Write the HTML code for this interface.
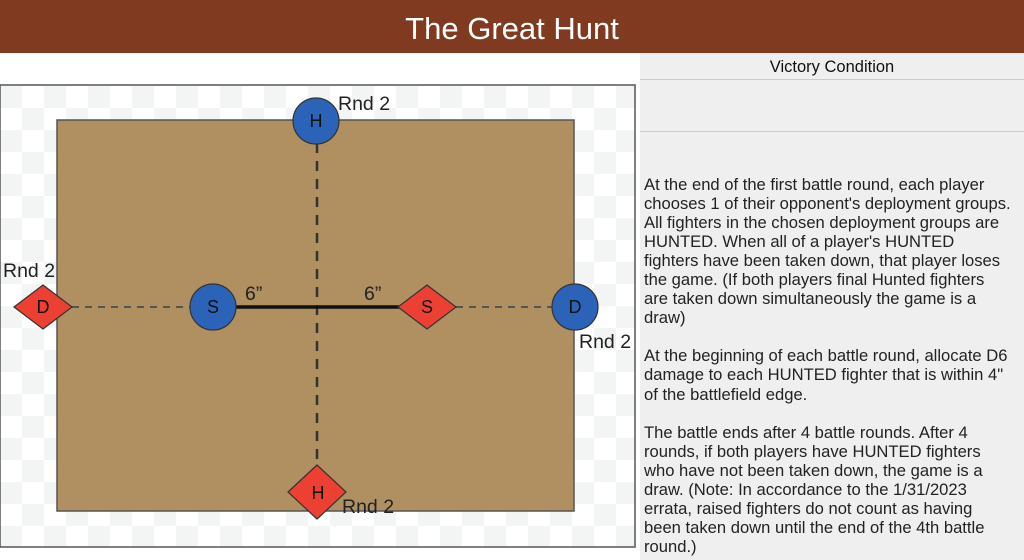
<!DOCTYPE html>
<html><head><style>
body{margin:0;width:1024px;height:560px;overflow:hidden;background:#fff;font-family:"Liberation Sans",Arial,sans-serif;position:relative}
#hdr{position:absolute;left:0;top:0;width:1024px;height:53px;background:#7f3a1f;color:#fff;font-size:31px;text-align:center;line-height:58px}
#rp{position:absolute;left:640px;top:53px;width:384px;height:507px;background:#efefef}
.vc{position:absolute;left:640px;top:53px;width:384px;height:26px;text-align:center;font-size:16.5px;line-height:28px;color:#111;border-bottom:1px solid #ccc}
.ln2{position:absolute;left:640px;top:131px;width:384px;border-top:1px solid #ccc}
#txt{position:absolute;left:644px;top:175px;font-size:16.6px;line-height:19.05px;color:#222;white-space:nowrap}
</style></head><body>
<div id="hdr">The Great Hunt</div>
<div id="rp"></div>
<div class="vc">Victory Condition</div>
<div class="ln2"></div>
<div id="txt">At the end of the first battle round, each player<br>chooses 1 of their opponent's deployment groups.<br>All fighters in the chosen deployment groups are<br>HUNTED. When all of a player's HUNTED<br>fighters have been taken down, that player loses<br>the game. (If both players final Hunted fighters<br>are taken down simultaneously the game is a<br>draw)<br><br>At the beginning of each battle round, allocate D6<br>damage to each HUNTED fighter that is within 4"<br>of the battlefield edge.<br><br>The battle ends after 4 battle rounds. After 4<br>rounds, if both players have HUNTED fighters<br>who have not been taken down, the game is a<br>draw. (Note: In accordance to the 1/31/2023<br>errata, raised fighters do not count as having<br>been taken down until the end of the 4th battle<br>round.)</div>
<svg style="position:absolute;left:0;top:0" width="640" height="560">
<defs><pattern id="ck" x="0" y="86" width="44" height="44" patternUnits="userSpaceOnUse"><rect width="44" height="44" fill="#fff"/><rect width="22" height="22" fill="#f3f4f4"/><rect x="22" y="22" width="22" height="22" fill="#f3f4f4"/></pattern></defs>
<rect x="0" y="85" width="635" height="462" fill="url(#ck)" stroke="#555" stroke-width="1.5"/>
<rect x="57" y="120" width="517" height="391" fill="#b08f60" stroke="#555" stroke-width="1.5"/>
<line x1="317" y1="143" x2="317" y2="468" stroke="#333" stroke-width="2.5" stroke-dasharray="10,8"/>
<line x1="72" y1="307" x2="190" y2="307" stroke="#555" stroke-width="2" stroke-dasharray="7,6"/>
<line x1="456" y1="307" x2="552" y2="307" stroke="#555" stroke-width="2" stroke-dasharray="7,6"/>
<line x1="236" y1="307" x2="400" y2="307" stroke="#111" stroke-width="3.5"/>
<g stroke="#333" stroke-width="1.2">
<circle cx="316" cy="121" r="23" fill="#2a63b8"/>
<circle cx="213" cy="307" r="23" fill="#2a63b8"/>
<circle cx="575" cy="307" r="23" fill="#2a63b8"/>
<polygon points="14,307 43,285 72,307 43,329" fill="#ec4132"/>
<polygon points="398,307 427,285 456,307 427,329" fill="#ec4132"/>
<polygon points="288,492 317,465 346,492 317,519" fill="#ec4132"/>
</g>
<g font-family="Liberation Sans,Arial,sans-serif" font-size="18" fill="#111" text-anchor="middle">
<text x="316" y="127">H</text><text x="213" y="313">S</text><text x="575" y="313">D</text>
<text x="43" y="313">D</text><text x="427" y="313">S</text><text x="318" y="499">H</text>
</g>
<g font-family="Liberation Sans,Arial,sans-serif" font-size="19.5" fill="#222">
<text x="338" y="110">Rnd 2</text><text x="3" y="277">Rnd 2</text><text x="579" y="348">Rnd 2</text><text x="342" y="513">Rnd 2</text>
<text x="245" y="300">6”</text><text x="364" y="300">6”</text>
</g>
</svg>
</body></html>
